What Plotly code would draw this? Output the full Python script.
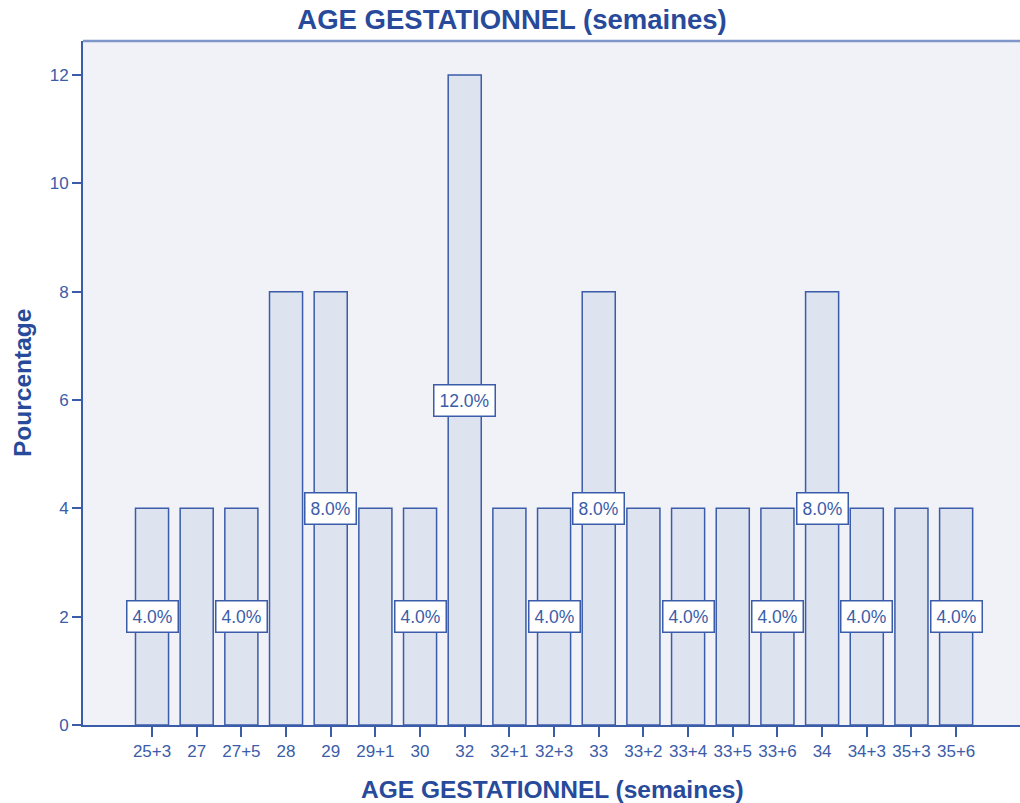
import plotly.graph_objects as go

categories = ["25+3", "27", "27+5", "28", "29", "29+1", "30", "32", "32+1", "32+3",
              "33", "33+2", "33+4", "33+5", "33+6", "34", "34+3", "35+3", "35+6"]
percentages = [4, 4, 4, 8, 8, 4, 4, 12, 4, 4, 8, 4, 4, 4, 4, 8, 4, 4, 4]
# which bars display their value label (as in the original chart)
label_shown = [True, False, True, False, True, False, True, True, False, True,
               True, False, True, False, True, True, True, False, True]
y_ticks = [0, 2, 4, 6, 8, 10, 12]

title_text = "AGE GESTATIONNEL (semaines)"
x_title = "AGE GESTATIONNEL (semaines)"
y_title = "Pourcentage"

FONT = "Liberation Sans, Arial, sans-serif"
DARK = "#284a9b"
AXIS = "#3b5ca8"
BG = "#f1f2f8"
FILL = "#dee3f0"

fig = go.Figure()
fig.add_trace(go.Bar(
    x=categories, y=percentages, width=0.74,
    marker=dict(color=FILL, line=dict(color=AXIS, width=1.5)),
    hoverinfo="x+y", showlegend=False,
))

annotations = []
for i, (v, s) in enumerate(zip(percentages, label_shown)):
    if s:
        # category axes place annotations by category index
        annotations.append(dict(
            x=i, y=v / 2, xref="x", yref="y", text=f"{v:.1f}%", showarrow=False,
            font=dict(family=FONT, size=17.5, color=AXIS),
            bgcolor="white", bordercolor=AXIS, borderwidth=1.5, borderpad=5,
            xanchor="center", yanchor="middle",
        ))

# axis titles
annotations.append(dict(
    x=0.5016, y=-0.0936, xref="paper", yref="paper", text=f"<b>{x_title}</b>",
    showarrow=False, font=dict(family=FONT, size=24.5, color=DARK),
    xanchor="center", yanchor="middle",
))
annotations.append(dict(
    x=-0.0651, y=0.5, xref="paper", yref="paper", text=f"<b>{y_title}</b>",
    showarrow=False, textangle=-90, font=dict(family=FONT, size=24.5, color=DARK),
    xanchor="center", yanchor="middle",
))

fig.update_layout(
    width=1020, height=803,
    margin=dict(l=83, r=0, t=41, b=78),
    paper_bgcolor="white", plot_bgcolor=BG,
    title=dict(text=f"<b>{title_text}</b>", x=0.502, xanchor="center",
               y=1 - 19 / 803, yanchor="middle", yref="container",
               font=dict(family=FONT, size=27.5, color=DARK)),
    annotations=annotations,
    shapes=[dict(type="line", xref="paper", yref="paper", x0=0, x1=1, y0=1, y1=1,
                 line=dict(color="#7f96cb", width=2.5))],
    xaxis=dict(
        type="category", range=[-1.545, 19.43],
        showgrid=False, zeroline=False,
        showline=True, linecolor=AXIS, linewidth=2,
        ticks="outside", ticklen=10, tickwidth=2, tickcolor=AXIS,
        tickfont=dict(family=FONT, size=17, color=AXIS),
    ),
    yaxis=dict(
        range=[0, 12.63], tickvals=y_ticks,
        showgrid=False, zeroline=False,
        showline=True, linecolor=AXIS, linewidth=2,
        ticks="outside", ticklen=9, tickwidth=2, tickcolor=AXIS,
        tickfont=dict(family=FONT, size=17, color=AXIS),
    ),
    bargap=0.26,
)

fig.write_html(
    "out.html",
    config={"displayModeBar": False},
    post_script="document.body.style.margin='0';document.body.style.overflow='hidden';",
)
